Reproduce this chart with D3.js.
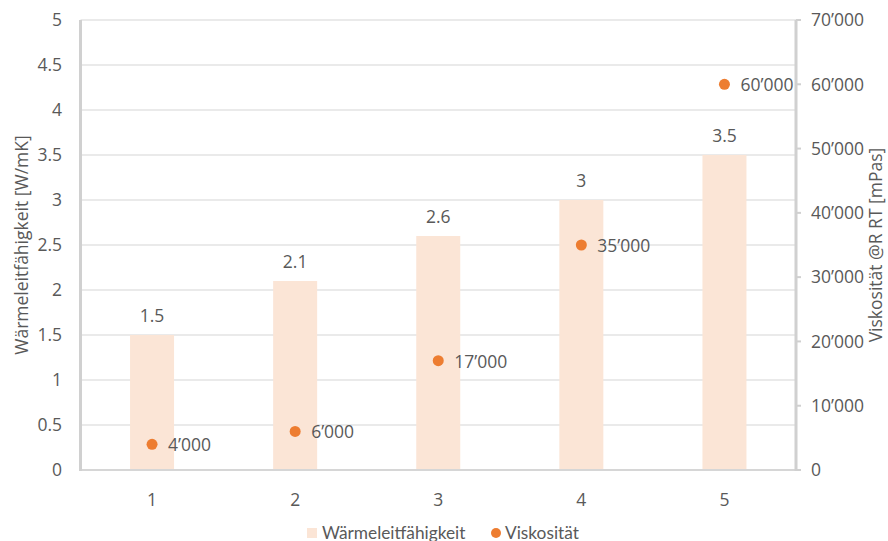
<!DOCTYPE html>
<html><head><meta charset="utf-8">
<script src="https://cdn.jsdelivr.net/npm/d3@7"></script>
<style>body{margin:0;background:#fff}svg{display:block}</style>
</head><body>
<svg id="c" width="888" height="541"></svg>
<script>
const categories = ["1","2","3","4","5"];
const waermeleit = [1.5, 2.1, 2.6, 3, 3.5];
const viskositaet = [4000, 6000, 17000, 35000, 60000];
const leftTicks = [0,0.5,1,1.5,2,2.5,3,3.5,4,4.5,5];
const rightTicks = [0,10000,20000,30000,40000,50000,60000,70000];

const svg = d3.select("#c");
const m = {l:80.5, r:796, t:20, b:470};
const font = "'Open Sans', 'Noto Sans', sans-serif";
const fs = 17.5;
const txt = "#595959";

const x = d3.scaleBand().domain(categories).range([m.l, m.r]);
const yL = d3.scaleLinear().domain([0,5]).range([m.b, m.t]);
const yR = d3.scaleLinear().domain([0,70000]).range([m.b, m.t]);
const fmt = v => d3.format(",")(v).replace(/,/g, "\u2019");

// gridlines
svg.append("g").selectAll("line").data(leftTicks.filter(d=>d>0)).join("line")
  .attr("x1", m.l).attr("x2", m.r).attr("y1", d=>yL(d)).attr("y2", d=>yL(d))
  .attr("stroke", "#E3E3E3").attr("stroke-width", 1.5);

// bars
const bw = 44;
svg.append("g").selectAll("rect").data(waermeleit).join("rect")
  .attr("x", (d,i)=>x(categories[i]) + x.bandwidth()/2 - bw/2)
  .attr("width", bw)
  .attr("y", d=>yL(d)).attr("height", d=>yL(0)-yL(d))
  .attr("fill", "#FBE5D6");

// bar labels
svg.append("g").selectAll("text").data(waermeleit).join("text")
  .attr("x", (d,i)=>x(categories[i]) + x.bandwidth()/2)
  .attr("y", d=>yL(d) - 13)
  .attr("text-anchor","middle").attr("font-family",font).attr("font-size",fs).attr("fill",txt)
  .text(d=>d);

// axes lines
svg.append("line").attr("x1",m.l).attr("x2",m.r).attr("y1",m.b).attr("y2",m.b)
  .attr("stroke","#D6D6D6").attr("stroke-width",2);
svg.append("line").attr("x1",m.l).attr("x2",m.l).attr("y1",m.t).attr("y2",m.b+1)
  .attr("stroke","#D0D0D0").attr("stroke-width",3);
svg.append("line").attr("x1",m.r).attr("x2",m.r).attr("y1",m.t).attr("y2",m.b+1)
  .attr("stroke","#D0D0D0").attr("stroke-width",3);

// left ticks
svg.append("g").selectAll("text").data(leftTicks).join("text")
  .attr("x", 62).attr("y", d=>yL(d)).attr("dy","0.36em")
  .attr("text-anchor","end").attr("font-family",font).attr("font-size",fs).attr("fill",txt)
  .text(d=>d);

// right ticks
const rt = svg.append("g");
rt.selectAll("line").data(rightTicks).join("line")
  .attr("x1", m.r).attr("x2", m.r+5).attr("y1", d=>yR(d)).attr("y2", d=>yR(d))
  .attr("stroke","#D0D0D0").attr("stroke-width",2);
rt.selectAll("text").data(rightTicks).join("text")
  .attr("x", 811).attr("y", d=>yR(d)).attr("dy","0.36em")
  .attr("text-anchor","start").attr("font-family",font).attr("font-size",fs).attr("fill",txt)
  .text(d=>fmt(d));

// x labels
svg.append("g").selectAll("text").data(categories).join("text")
  .attr("x", d=>x(d)+x.bandwidth()/2).attr("y", 506)
  .attr("text-anchor","middle").attr("font-family",font).attr("font-size",fs).attr("fill",txt)
  .text(d=>d);

// dots
svg.append("g").selectAll("circle").data(viskositaet).join("circle")
  .attr("cx",(d,i)=>x(categories[i]) + x.bandwidth()/2)
  .attr("cy", d=>yR(d)).attr("r",5.5).attr("fill","#ED7D31");
svg.append("g").selectAll("text").data(viskositaet).join("text")
  .attr("x",(d,i)=>x(categories[i]) + x.bandwidth()/2 + 16)
  .attr("y", d=>yR(d)).attr("dy","0.4em")
  .attr("font-family",font).attr("font-size",fs).attr("fill",txt)
  .text(d=>fmt(d));

// axis titles
svg.append("text").attr("transform",`translate(28,${(m.t+m.b)/2}) rotate(-90)`)
  .attr("text-anchor","middle").attr("font-family",font).attr("font-size",fs).attr("fill",txt)
  .text("Wärmeleitfähigkeit [W/mK]");
svg.append("text").attr("transform",`translate(882,${(m.t+m.b)/2}) rotate(-90)`)
  .attr("text-anchor","middle").attr("font-family",font).attr("font-size",fs).attr("fill",txt)
  .text("Viskosität @R RT [mPas]");

// legend
const lg = svg.append("g").attr("font-family","Lato, sans-serif").attr("font-size",17.3).attr("fill",txt);
lg.append("rect").attr("x",307).attr("y",528).attr("width",10).attr("height",10).attr("fill","#FBE5D6");
lg.append("text").attr("x",322).attr("y",538.5).text("Wärmeleitfähigkeit");
lg.append("circle").attr("cx",496).attr("cy",533).attr("r",5).attr("fill","#ED7D31");
lg.append("text").attr("x",505).attr("y",538.5).text("Viskosität");
</script>
</body></html>
